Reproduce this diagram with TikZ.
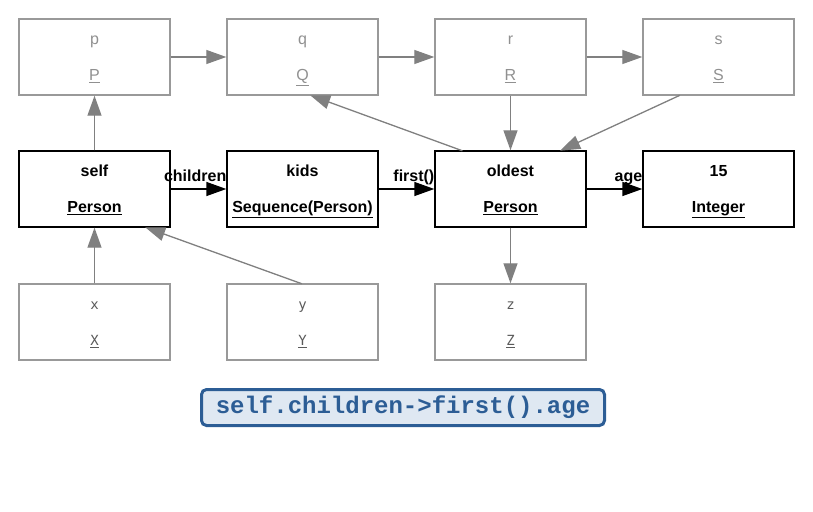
\documentclass[tikz,border=0pt]{standalone}
\usepackage{fontspec}
\setmainfont{Liberation Sans}
\setmonofont{Liberation Mono}
\newfontfamily\lowfont{DejaVu Sans Mono}
\usetikzlibrary{arrows.meta,positioning}
\definecolor{ghostline}{HTML}{999999}
\definecolor{ghosttext}{HTML}{909090}
\definecolor{lowtext}{HTML}{5A5A5A}
\definecolor{depline}{HTML}{808080}
\definecolor{oclblue}{HTML}{2C5D95}
\definecolor{oclfill}{HTML}{DFE8F2}
\tikzset{>={Triangle[length=20pt,width=14pt]},node distance=56pt and 57pt}
\newcommand{\objtext}[2]{\rule{0pt}{11.5pt}#1\\[17pt]\smash{\underline{#2}}}

\begin{document}
\begin{tikzpicture}[
    obj/.style={draw,line width=1.4pt,minimum width=151pt,minimum height=76pt,outer sep=0pt,
        inner sep=0pt,align=center,font=\bfseries\fontsize{16}{19}\selectfont},
    ghost/.style={obj,draw=ghostline,text=ghosttext,font=\fontsize{16}{19}\selectfont},
    low/.style={ghost,text=lowtext,font=\lowfont\fontsize{14}{19}\selectfont},
    link/.style={->,line width=1.4pt,shorten >=0.7pt,shorten <=0.7pt},
    dep/.style={->,draw=depline,fill=depline,line width=1.3pt,shorten >=0.7pt,shorten <=0.7pt},
    lbl/.style={anchor=base east,pos=1,yshift=8pt,inner sep=0pt,font=\bfseries\fontsize{16}{19}\selectfont},
    ocl/.style={draw=oclblue,fill=oclfill,line width=3pt,rounded corners=5pt,text=oclblue,
        minimum width=403pt,minimum height=36pt,font=\ttfamily\bfseries\fontsize{24}{26}\selectfont}]
    \useasboundingbox (0,0) rectangle (813pt,-511pt);

    % top row
    \node[ghost,anchor=north west] (p) at (19pt,-19pt) {\objtext{p}{P}};
    \node[ghost,right=of p] (q) {\objtext{q}{Q}};
    \node[ghost,right=of q] (r) {\objtext{r}{R}};
    \node[ghost,right=of r] (s) {\objtext{s}{S}};

    % the navigated objects
    \node[obj,below=of p]      (self)   {\objtext{self}{Person}};
    \node[obj,right=of self]   (kids)   {\objtext{kids}{Sequence(Person)}};
    \node[obj,right=of kids]   (oldest) {\objtext{oldest}{Person}};
    \node[obj,right=of oldest] (val)    {\objtext{15}{Integer}};

    % bottom row
    \node[low,below=57pt of self]   (x) {\objtext{x}{X}};
    \node[low,below=57pt of kids]   (y) {\objtext{y}{Y}};
    \node[low,below=57pt of oldest] (z) {\objtext{z}{Z}};

    \node[ocl] (expr) at (403pt,-407.5pt) {self.children->first().age};

    \draw[link] (self) -- node[lbl] {children} (kids);
    \draw[link] (kids) -- node[lbl] {first()} (oldest);
    \draw[link] (oldest) -- node[lbl] {age} (val);

    \draw[dep] (p) -- (q);
    \draw[dep] (q) -- (r);
    \draw[dep] (r) -- (s);
    \draw[dep] (self) -- (p);
    \draw[dep] (x) -- (self);
    \draw[dep] (y.north) -- ([xshift=50pt]self.south);
    \draw[dep] ([xshift=28pt]oldest.north west) -- ([xshift=7pt]q.south);
    \draw[dep] (r) -- (oldest);
    \draw[dep] ([xshift=-38pt]s.south) -- ([xshift=49pt]oldest.north);
    \draw[dep] (oldest) -- (z);
\end{tikzpicture}
\end{document}
